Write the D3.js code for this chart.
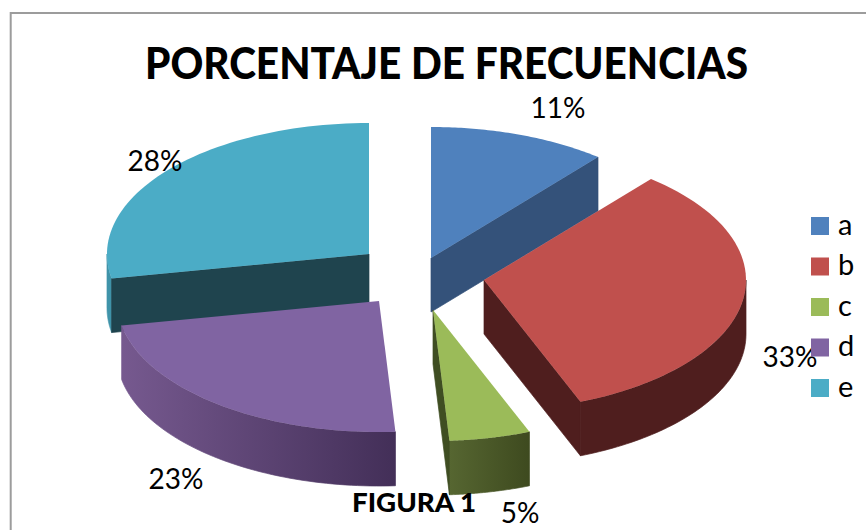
<!DOCTYPE html>
<html>
<head>
<meta charset="utf-8">
<script src="https://cdn.jsdelivr.net/npm/d3@7"></script>
<style>
  html, body { margin: 0; padding: 0; background: #fff; }
  svg { display: block; }
  text { font-family: Lato, "Open Sans", sans-serif; fill: #000; }
</style>
</head>
<body>
<div id="chart"></div>
<script>
// DATA
const categories = ["a", "b", "c", "d", "e"];
const percentages = [11, 33, 5, 23, 28];
const percentLabels = ["11%", "33%", "5%", "23%", "28%"];
const title = "PORCENTAJE DE FRECUENCIAS";
const caption = "FIGURA 1";

// LAYOUT
const width = 866, height = 530;
const rx = 262, ry = 131, depth = 54;
const center = [413, 279];
const explode = [[18, -21], [71, 1], [20, 31], [-34, 22], [-44, -25]];
const labelPos = [[558, 118], [790, 367], [520, 523], [176, 489], [155, 171]];

// which cut edge of each slice faces the viewer
const cutSide = ["endAngle", "endAngle", "endAngle", null, "startAngle"];

const colors = ["#4f81bd", "#c0504d", "#9bbb59", "#8064a2", "#4bacc6"];
const cutColors = ["#34527a", "#4f1e1e", "#3f4e22", null, "#1f444e"];
const wallColors = [
  ["#34527a", "#34527a"],
  ["#4f1e1e", "#4f1e1e"],
  ["#566631", "#3e4a1f"],
  ["#76598f", "#432f58"],
  ["#3f93a9", "#3f93a9"]
];

const svg = d3.select("#chart").append("svg")
  .attr("width", width)
  .attr("height", height);

// chart frame, runs off the right and bottom of the crop
svg.append("path")
  .attr("d", `M10.7,${height + 2}V13H${width + 2}`)
  .attr("fill", "none")
  .attr("stroke", "#9c9c9c")
  .attr("stroke-width", 2);

const slices = d3.pie().sort(null).value(d => d)(percentages);

const px = a => rx * Math.sin(a);
const py = a => -ry * Math.cos(a);

const line = d3.line().x(d => d[0]).y(d => d[1]);

// points along the rim between two angles
const rim = (a0, a1, dy = 0) =>
  d3.range(0, 61).map(i => {
    const a = a0 + (a1 - a0) * i / 60;
    return [px(a), py(a) + dy];
  });

const defs = svg.append("defs");

// back slices first, the ones in front cover them
const drawOrder = [0, 4, 1, 3, 2];
const g = svg.append("g")
  .attr("transform", `translate(${center})`);

const sliceG = g.selectAll("g.slice")
  .data(drawOrder)
  .join("g")
  .attr("class", "slice")
  .attr("transform", i => `translate(${explode[i]})`);

sliceG.each(function(i) {
  const s = slices[i];
  const sel = d3.select(this);

  // outer wall, only the front half of the rim shows
  const a0 = Math.max(s.startAngle, Math.PI / 2);
  const a1 = Math.min(s.endAngle, Math.PI * 1.5);
  if (a1 > a0) {
    const grad = defs.append("linearGradient")
      .attr("id", "wall" + i)
      .attr("gradientUnits", "userSpaceOnUse")
      .attr("x1", Math.min(px(a0), px(a1))).attr("x2", Math.max(px(a0), px(a1)))
      .attr("y1", 0).attr("y2", 0);
    grad.append("stop").attr("offset", 0).attr("stop-color", wallColors[i][0]);
    grad.append("stop").attr("offset", 1).attr("stop-color", wallColors[i][1]);
    sel.append("path")
      .attr("d", line(rim(a0, a1).concat(rim(a1, a0, depth))) + "Z")
      .attr("fill", `url(#wall${i})`)
      .attr("stroke", `url(#wall${i})`)
      .attr("stroke-width", 0.7);
  }

  // cut face
  if (cutSide[i]) {
    const a = s[cutSide[i]];
    sel.append("path")
      .attr("d", line([[0, 0], [px(a), py(a)], [px(a), py(a) + depth], [0, depth]]) + "Z")
      .attr("fill", cutColors[i])
      .attr("stroke", cutColors[i])
      .attr("stroke-width", 0.7);
  }

  // top face
  sel.append("path")
    .attr("d", line([[0, 0]].concat(rim(s.startAngle, s.endAngle))) + "Z")
    .attr("fill", colors[i]);
});

// title and caption
svg.append("text")
  .attr("x", 446.5).attr("y", 79)
  .attr("text-anchor", "middle")
  .attr("font-size", 43)
  .attr("font-weight", 900)
  .attr("textLength", 603)
  .attr("lengthAdjust", "spacingAndGlyphs")
  .text(title);

svg.append("text")
  .attr("x", 414).attr("y", 512)
  .attr("text-anchor", "middle")
  .attr("font-size", 27)
  .attr("font-weight", 900)
  .attr("textLength", 124)
  .attr("lengthAdjust", "spacingAndGlyphs")
  .text(caption);

// percent labels
svg.selectAll("text.pct")
  .data(percentLabels)
  .join("text")
  .attr("class", "pct")
  .attr("x", (d, i) => labelPos[i][0])
  .attr("y", (d, i) => labelPos[i][1])
  .attr("text-anchor", "middle")
  .attr("font-size", 28)
  .text(d => d);

// legend sits on top of the labels
const legendY = d3.scalePoint().domain(categories).range([226, 388]);

const legend = svg.selectAll("g.legend")
  .data(categories)
  .join("g")
  .attr("class", "legend")
  .attr("transform", d => `translate(811,${legendY(d)})`);

legend.append("rect")
  .attr("y", -9)
  .attr("width", 18)
  .attr("height", 18)
  .attr("fill", (d, i) => colors[i]);

legend.append("text")
  .attr("x", 27)
  .attr("y", 8.5)
  .attr("font-size", 29)
  .text(d => d);
</script>
</body>
</html>
